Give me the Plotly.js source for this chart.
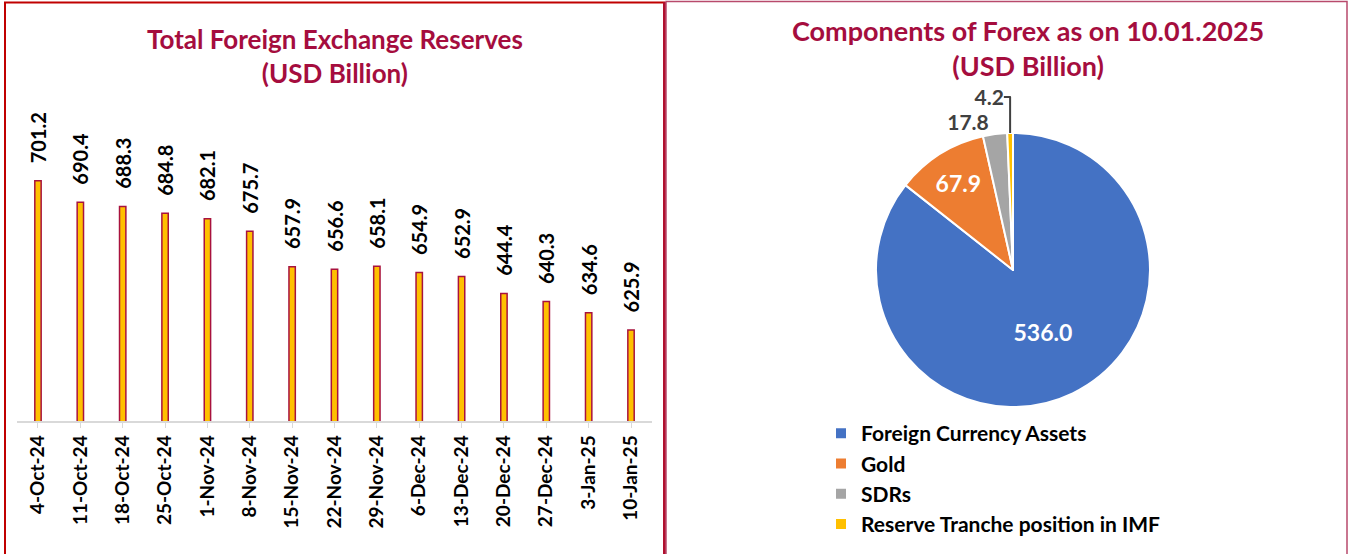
<!DOCTYPE html>
<html>
<head>
<meta charset="utf-8">
<script src="https://cdn.plot.ly/plotly-3.0.1.min.js"></script>
<style>
  html, body { margin: 0; padding: 0; background: #fff; }
  #chart { width: 1349px; height: 554px; }
</style>
</head>
<body>
<div id="chart"></div>
<script>
// weekly reserves, USD billion
var weeks = ['4-Oct-24', '11-Oct-24', '18-Oct-24', '25-Oct-24', '1-Nov-24', '8-Nov-24',
             '15-Nov-24', '22-Nov-24', '29-Nov-24', '6-Dec-24', '13-Dec-24', '20-Dec-24',
             '27-Dec-24', '3-Jan-25', '10-Jan-25'];
var reserves = [701.2, 690.4, 688.3, 684.8, 682.1, 675.7, 657.9, 656.6, 658.1, 654.9,
                652.9, 644.4, 640.3, 634.6, 625.9];

// components as on 10.01.2025
var components = ['Foreign Currency Assets', 'Gold', 'SDRs', 'Reserve Tranche position in IMF'];
var componentValues = [536.0, 67.9, 17.8, 4.2];
var componentColours = ['#4472C4', '#ED7D31', '#A5A5A5', '#FFC000'];

var W = 1349, H = 554;
function px(x) { return x / W; }
function py(y) { return 1 - y / H; }

var font = 'Lato, "Open Sans", sans-serif';
var titleColour = '#A50D3E';

var barTrace = {
    type: 'bar',
    x: weeks,
    y: reserves,
    width: 0.15,
    marker: { color: '#FFC000', line: { color: '#A8123E', width: 1.5 } },
    texttemplate: '\u00a0\u00a0\u00a0%{y:.1f}',
    textposition: 'outside',
    textangle: -90,
    constraintext: 'none',
    cliponaxis: false,
    textfont: { family: font, size: 20, color: '#000', weight: 'bold' },
    hoverinfo: 'x+y',
    showlegend: false
};

var pieTrace = {
    type: 'pie',
    labels: components,
    values: componentValues,
    sort: false,
    direction: 'clockwise',
    rotation: 0,
    marker: { colors: componentColours, line: { color: '#fff', width: 2 } },
    texttemplate: '%{value:.1f}',
    textposition: ['inside', 'inside', 'outside', 'outside'],
    insidetextorientation: 'horizontal',
    insidetextfont: { family: font, size: 23, color: '#fff', weight: 'bold' },
    outsidetextfont: { family: font, size: 21, color: '#404040', weight: 'bold' },
    domain: { x: [px(876), px(1150)], y: [py(407), py(133)] },
    hoverinfo: 'label+value'
};

var layout = {
    width: W,
    height: H,
    margin: { l: 0, r: 0, t: 0, b: 0 },
    paper_bgcolor: '#fff',
    plot_bgcolor: '#fff',
    font: { family: font },
    xaxis: {
        domain: [px(16.8), px(652.2)],
        type: 'category',
        showline: true,
        linecolor: '#D9D9D9',
        linewidth: 1.5,
        ticks: 'outside',
        ticklen: 5,
        tickcolor: '#D9D9D9',
        tickangle: -90,
        tickfont: { family: font, size: 19, color: '#000', weight: 'bold' },
        showgrid: false,
        zeroline: false,
        fixedrange: true
    },
    yaxis: {
        domain: [py(421), py(100)],
        range: [580, 742],
        visible: false,
        showgrid: false,
        fixedrange: true
    },
    showlegend: true,
    legend: {
        x: px(821),
        y: py(413),
        xanchor: 'left',
        yanchor: 'top',
        font: { family: font, size: 21, color: '#000', weight: 'bold' },
        itemwidth: 30,
        tracegroupgap: 0
    },
    annotations: [
        {
            xref: 'paper', yref: 'paper', x: px(335), y: py(56),
            xanchor: 'center', yanchor: 'middle', showarrow: false,
            text: 'Total Foreign Exchange Reserves<br>(USD Billion)',
            font: { family: font, size: 26, color: titleColour, weight: 'bold' }
        },
        {
            xref: 'paper', yref: 'paper', x: px(1028), y: py(48),
            xanchor: 'center', yanchor: 'middle', showarrow: false,
            text: 'Components of Forex as on 10.01.2025<br>(USD Billion)',
            font: { family: font, size: 27, color: titleColour, weight: 'bold' }
        }
    ],
    shapes: [
        { type: 'rect', xref: 'paper', yref: 'paper',
          x0: px(5), x1: px(664), y0: py(2.5), y1: py(600),
          line: { color: '#C00000', width: 2 } },
        { type: 'line', xref: 'paper', yref: 'paper',
          x0: px(664.5), x1: px(664.5), y0: py(2), y1: py(600),
          line: { color: '#B0102E', width: 3 } },
        { type: 'rect', xref: 'paper', yref: 'paper',
          x0: px(666), x1: px(1347), y0: py(1.5), y1: py(600),
          line: { color: '#B84A6C', width: 1.5 } }
    ]
};

Plotly.newPlot('chart', [barTrace, pieTrace], layout, { displayModeBar: false });
</script>
</body>
</html>
